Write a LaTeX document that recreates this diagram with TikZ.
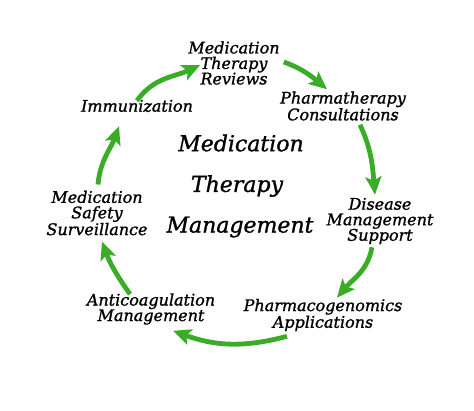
\documentclass[tikz,border=0pt]{standalone}
\usepackage{fontspec}
\usepackage{tikz}
\usetikzlibrary{arrows.meta,calc}
\newfontfamily\mtmserif{DejaVu Serif}[RawFeature={embolden=1.2}]
\definecolor{flowgreen}{RGB}{58,172,40}
\newcommand{\steplabelfont}{\mtmserif\itshape\fontsize{16}{15.5}\selectfont}
\newcommand{\titlefont}{\mtmserif\itshape\fontsize{22}{22}\selectfont}

\begin{document}
\begin{tikzpicture}[x=1pt,y=1pt,
  steptext/.style={align=center,inner sep=0pt,font=\steplabelfont},
  titletext/.style={inner sep=0pt,font=\titlefont},
  flow/.style={draw=flowgreen,line width=4.8pt,
    -{Stealth[length=18pt,width=16pt,inset=4pt]}}]
\useasboundingbox (0,0) rectangle (474,-411);
% cycle steps
\node[steptext] (reviews)  at (234,-63)  {Medication\\Therapy\\Reviews};
\node[steptext] (consult)  at (343,-106) {Pharmatherapy\\Consultations};
\node[steptext] (disease)  at (380,-221) {Disease\\Management\\Support};
\node[steptext] (pharmaco) at (323,-315) {Pharmacogenomics\\Applications};
\node[steptext] (anticoag) at (151,-309) {Anticoagulation\\Management};
\node[steptext] (safety)   at (97,-213)  {Medication\\Safety\\Surveillance};
\node[steptext] (immun)    at (137,-106) {Immunization};
% title in the middle
\node[titletext] (title1) at (241,-143) {Medication};
\node[titletext] (title2) at (237,-186) {Therapy};
\node[titletext] (title3) at (240,-227) {Management};
% arrows round the cycle
\draw[flow] ($(immun.north)+(0,-1)$) to[out=55,in=205] ($(reviews.west)+(12,-2)$);
\draw[flow] ($(reviews.east)+(4,1)$) to[out=-20,in=140] ($(consult.north)+(-16,2)$);
\draw[flow] ($(consult.south)+(17,-4)$) to[out=-65,in=95] ($(disease.north)+(-5,3)$);
\draw[flow] ($(disease.south)+(-8,-3)$) to[out=-100,in=50] ($(pharmaco.north)+(14,1)$);
\draw[flow] ($(pharmaco.south)+(-36,-5)$) to[out=195,in=-20] ($(anticoag.south)+(22,-6)$);
\draw[flow] ($(anticoag.north)+(-21,-1)$) to[out=125,in=-70] ($(safety.south)+(5,-6)$);
\draw[flow] ($(safety.north)+(1,6)$) to[out=85,in=-110] ($(immun.south)+(-18,-14)$);
\end{tikzpicture}
\end{document}
